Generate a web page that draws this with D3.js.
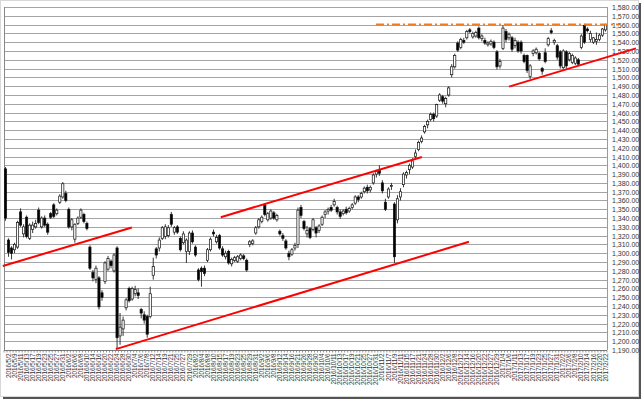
<!DOCTYPE html>
<html><head><meta charset="utf-8">
<script src="https://cdn.jsdelivr.net/npm/d3@7"></script>
<style>
body{margin:0;background:#fff}
svg{display:block}
text{font-family:"Liberation Sans",Arial,sans-serif}
</style>
</head><body>
<svg id="c" width="644" height="402"></svg>
<script>
const dates = [
"2016/4/28",
"2016/5/2","2016/5/6","2016/5/9","2016/5/10","2016/5/11","2016/5/12","2016/5/13","2016/5/16","2016/5/17","2016/5/18","2016/5/19","2016/5/20","2016/5/23","2016/5/24","2016/5/25","2016/5/26","2016/5/27","2016/5/30","2016/5/31",
"2016/6/1","2016/6/2","2016/6/3","2016/6/6","2016/6/7","2016/6/8","2016/6/9","2016/6/10","2016/6/13","2016/6/14","2016/6/15","2016/6/16","2016/6/17","2016/6/20","2016/6/21","2016/6/22","2016/6/23","2016/6/24","2016/6/27","2016/6/28","2016/6/29","2016/6/30",
"2016/7/1","2016/7/4","2016/7/5","2016/7/6","2016/7/7","2016/7/8","2016/7/11","2016/7/12","2016/7/13","2016/7/14","2016/7/15","2016/7/19","2016/7/20","2016/7/21","2016/7/22","2016/7/25","2016/7/26","2016/7/27","2016/7/28","2016/7/29",
"2016/8/1","2016/8/2","2016/8/3","2016/8/4","2016/8/5","2016/8/8","2016/8/9","2016/8/10","2016/8/12","2016/8/15","2016/8/16","2016/8/17","2016/8/18","2016/8/19","2016/8/22","2016/8/23","2016/8/24","2016/8/25","2016/8/26","2016/8/29","2016/8/30","2016/8/31",
"2016/9/1","2016/9/2","2016/9/5","2016/9/6","2016/9/7","2016/9/8","2016/9/9","2016/9/12","2016/9/13","2016/9/14","2016/9/15","2016/9/16","2016/9/20","2016/9/21","2016/9/23","2016/9/26","2016/9/27","2016/9/28","2016/9/29","2016/9/30",
"2016/10/3","2016/10/4","2016/10/5","2016/10/6","2016/10/7","2016/10/11","2016/10/12","2016/10/13","2016/10/14","2016/10/17","2016/10/18","2016/10/19","2016/10/20","2016/10/21","2016/10/24","2016/10/25","2016/10/26","2016/10/27","2016/10/28","2016/10/31",
"2016/11/1","2016/11/2","2016/11/4","2016/11/7","2016/11/8","2016/11/9","2016/11/10","2016/11/11","2016/11/14","2016/11/15","2016/11/16","2016/11/17","2016/11/18","2016/11/21","2016/11/22","2016/11/24","2016/11/25","2016/11/28","2016/11/29","2016/11/30",
"2016/12/1","2016/12/2","2016/12/5","2016/12/6","2016/12/7","2016/12/8","2016/12/9","2016/12/12","2016/12/13","2016/12/14","2016/12/15","2016/12/16","2016/12/19","2016/12/20","2016/12/21","2016/12/22","2016/12/26","2016/12/27","2016/12/28","2016/12/29","2016/12/30",
"2017/1/4","2017/1/5","2017/1/6","2017/1/10","2017/1/11","2017/1/12","2017/1/13","2017/1/16","2017/1/17","2017/1/18","2017/1/19","2017/1/20","2017/1/23","2017/1/24","2017/1/25","2017/1/26","2017/1/27","2017/1/30","2017/1/31",
"2017/2/1","2017/2/2","2017/2/3","2017/2/6","2017/2/7","2017/2/8","2017/2/9","2017/2/10","2017/2/13","2017/2/14","2017/2/15","2017/2/16","2017/2/17","2017/2/20","2017/2/21","2017/2/22"
];

const open = [
1396,1315,1306,1304,1307,1347,1322,1341,1317,1327,
1330,1349,1330,1340,1333,1345,1355,1345,1358,1364,
1368,1350,1330,1316,1334,1341,1344,1334,1307,1278,
1270,1272,1255,1268,1282,1291,1280,1306,1206,1214,
1238,1260,1248,1254,1255,1236,1230,1228,1228,1275,
1305,1306,1317,1319,1320,1344,1324,1330,1317,1312,
1302,1302,1323,1307,1281,1283,1283,1292,1304,1324,
1313,1320,1305,1296,1302,1288,1292,1291,1294,1297,
1292,1310,1311,1323,1330,1336,1355,1338,1340,1346,
1338,1325,1320,1314,1300,1299,1306,1310,1352,1336,
1322,1328,1327,1329,1326,1333,1344,1348,1352,1355,
1352,1347,1345,1350,1348,1352,1357,1364,1364,1370,
1375,1372,1380,1390,1394,1380,1358,1364,1376,1356,
1338,1364,1378,1389,1395,1398,1410,1418,1427,1438,
1446,1452,1458,1456,1474,1478,1470,1480,1503,1512,
1539,1534,1542,1545,1554,1546,1547,1556,1544,1542,
1537,1538,1540,1529,1513,1533,1552,1545,1545,1536,
1540,1540,1525,1525,1501,1527,1528,1527,1510,1528,
1537,1553,1540,1536,1529,1511,1529,1520,1517,1516,
1520,1534,1559,1555,1543,1540,1541,1543,1548,1554];

const high = [
1398,1317,1308,1312,1337,1351,1333,1343,1334,1336,
1338,1352,1342,1343,1335,1347,1357,1351,1367,1381,
1371,1352,1340,1334,1342,1351,1346,1336,1309,1281,
1286,1274,1258,1291,1297,1293,1300,1308,1232,1228,
1249,1262,1262,1263,1260,1238,1234,1230,1262,1295,
1307,1318,1331,1333,1332,1347,1331,1332,1319,1325,
1317,1325,1326,1309,1283,1285,1286,1306,1318,1327,
1321,1322,1308,1303,1304,1295,1297,1298,1300,1299,
1294,1315,1316,1331,1340,1343,1357,1347,1350,1348,
1345,1327,1323,1316,1303,1306,1312,1352,1355,1338,
1331,1330,1340,1331,1333,1343,1349,1352,1355,1362,
1354,1350,1350,1353,1353,1357,1366,1366,1370,1376,
1378,1377,1391,1395,1400,1383,1362,1375,1380,1358,
1366,1374,1392,1394,1402,1408,1418,1428,1434,1446,
1452,1460,1460,1470,1482,1480,1478,1490,1515,1527,
1541,1545,1545,1554,1556,1552,1553,1558,1549,1545,
1541,1543,1542,1531,1521,1559,1555,1551,1547,1545,
1542,1542,1527,1526,1515,1532,1534,1529,1512,1533,
1546,1556,1544,1538,1531,1532,1531,1529,1527,1524,
1522,1549,1561,1557,1553,1546,1551,1550,1556,1561];

const low = [
1337,1296,1293,1300,1305,1330,1318,1317,1315,1323,
1328,1333,1328,1330,1321,1339,1340,1343,1356,1362,
1358,1328,1326,1312,1332,1339,1334,1326,1281,1268,
1266,1236,1246,1265,1280,1283,1278,1192,1196,1206,
1235,1244,1246,1251,1248,1226,1220,1204,1226,1270,
1294,1302,1315,1316,1318,1330,1321,1322,1302,1310,
1289,1298,1311,1296,1268,1262,1274,1290,1302,1319,
1311,1304,1296,1293,1287,1285,1290,1289,1292,1292,
1279,1307,1309,1321,1328,1334,1342,1336,1338,1338,
1336,1320,1314,1304,1292,1297,1303,1306,1340,1326,
1318,1316,1325,1318,1323,1331,1340,1344,1347,1353,
1344,1339,1343,1344,1346,1350,1355,1358,1362,1368,
1368,1369,1378,1386,1388,1368,1348,1362,1372,1289,
1334,1360,1375,1385,1390,1396,1408,1416,1425,1436,
1442,1450,1450,1454,1472,1470,1466,1478,1500,1510,
1529,1532,1538,1543,1550,1544,1545,1543,1541,1537,
1535,1536,1532,1509,1510,1531,1540,1542,1529,1533,
1528,1527,1516,1505,1498,1524,1526,1519,1503,1516,
1535,1549,1537,1520,1510,1509,1510,1518,1515,1514,
1513,1532,1538,1551,1540,1538,1537,1541,1546,1552];

const close = [
1340,1301,1300,1310,1335,1332,1330,1319,1332,1332,
1334,1335,1340,1332,1324,1341,1342,1349,1365,1379,
1360,1330,1338,1333,1340,1349,1336,1328,1283,1272,
1283,1239,1250,1289,1294,1286,1298,1204,1216,1224,
1247,1246,1260,1259,1252,1232,1224,1208,1254,1285,
1298,1315,1329,1330,1329,1333,1329,1324,1304,1322,
1315,1323,1313,1298,1270,1279,1277,1304,1316,1322,
1318,1306,1298,1300,1289,1293,1295,1296,1298,1294,
1281,1313,1314,1329,1338,1341,1344,1345,1348,1340,
1343,1322,1317,1306,1296,1304,1309,1349,1343,1328,
1326,1318,1338,1323,1331,1341,1347,1350,1349,1359,
1347,1342,1348,1346,1351,1355,1364,1361,1368,1374,
1371,1375,1389,1393,1391,1371,1350,1373,1377,1296,
1362,1370,1390,1392,1400,1405,1414,1426,1431,1444,
1450,1458,1453,1469,1480,1473,1476,1488,1512,1525,
1531,1543,1540,1552,1552,1550,1551,1545,1547,1539,
1539,1541,1534,1512,1518,1556,1543,1549,1532,1542,
1530,1530,1518,1508,1513,1530,1532,1521,1507,1518,
1544,1551,1542,1523,1513,1530,1513,1527,1525,1522,
1515,1547,1540,1553,1550,1545,1543,1548,1555,1560];

const yTicks = d3.range(1190, 1581, 10);
// trend lines: [start index, start value, end index, end value]
const trendLines = [
  [-0.9, 1285.5, 41.9, 1329.2],
  [36.6, 1191.0, 153.7, 1313.0],
  [71.4, 1341.0, 138.1, 1409.5],
  [167.0, 1489.5, 209.1, 1533.0]
];
const resistance = [122.9, 203.5, 1560];

const svg = d3.select("#c");
const L = 4, R = 607, T = 7, B = 350;
const n = dates.length;
const x = d3.scaleBand().domain(dates).range([L, R]).paddingInner(0.14).paddingOuter(0.07);
const xi = d3.scaleLinear().domain([0, n]).range([L, R]);
const y = d3.scaleLinear().domain([1190, 1580]).range([B, T]);

// outer chrome
svg.append("rect").attr("x",0.5).attr("y",0.5).attr("width",638).attr("height",396)
  .attr("fill","#fff").attr("stroke","#d8d8d8");
svg.append("line").attr("x1",640).attr("x2",640).attr("y1",3).attr("y2",399)
  .attr("stroke","#555").attr("stroke-width",2);
svg.append("line").attr("x1",3).attr("x2",641).attr("y1",398).attr("y2",398)
  .attr("stroke","#555").attr("stroke-width",2);

// gridlines
svg.append("g").selectAll("line").data(yTicks).join("line")
  .attr("x1", L).attr("x2", R)
  .attr("y1", d => Math.round(y(d)) + 0.5).attr("y2", d => Math.round(y(d)) + 0.5)
  .attr("stroke", "#a4a4a4").attr("stroke-width", 1);

// y labels
svg.append("g").selectAll("text").data(yTicks).join("text")
  .attr("x", 612).attr("y", d => Math.round(y(d)) + 0.5)
  .attr("dy", "0.35em").attr("font-size", 7).attr("fill", "#333")
  .text(d3.format(",.2f"));

// plot borders
svg.append("line").attr("x1", L+0.5).attr("x2", L+0.5).attr("y1", T).attr("y2", B)
  .attr("stroke", "#888");
svg.append("line").attr("x1", R+0.5).attr("x2", R+0.5).attr("y1", T).attr("y2", B)
  .attr("stroke", "#999");

// x axis with labels every other category
const labelDates = dates.filter((d, i) => i % 2 === 1);
const xAxis = d3.axisBottom(x).tickValues(labelDates).tickSize(0).tickPadding(0);
const gx = svg.append("g").attr("transform", `translate(0,${Math.round(B)+0.5})`).call(xAxis);
gx.select(".domain").attr("stroke", "#777").attr("d", `M${L},0H${R}`);
gx.selectAll("text")
  .attr("transform", "rotate(-90)")
  .attr("x", -3).attr("y", 0).attr("dy", "0.33em")
  .attr("text-anchor", "end").attr("font-size", 6.3).attr("fill", "#333")
  .attr("font-family", "'Liberation Sans',Arial,sans-serif");
// minor tick marks at category boundaries
svg.append("g").selectAll("line").data(d3.range(n + 1)).join("line")
  .attr("x1", i => xi(i)).attr("x2", i => xi(i))
  .attr("y1", Math.round(B)+0.5).attr("y2", Math.round(B)+2.5)
  .attr("stroke", "#777").attr("stroke-width", 0.8);

// candles
const idx = d3.range(n);
const cx = i => x(dates[i]) + x.bandwidth() / 2;
const g = svg.append("g");
g.selectAll("line").data(idx).join("line")
  .attr("x1", i => cx(i)).attr("x2", i => cx(i))
  .attr("y1", i => y(high[i])).attr("y2", i => y(low[i]))
  .attr("stroke", "#222").attr("stroke-width", 0.9);
g.selectAll("rect").data(idx).join("rect")
  .attr("x", i => x(dates[i]) + 0.2)
  .attr("width", x.bandwidth() - 0.4)
  .attr("y", i => y(Math.max(open[i], close[i])))
  .attr("height", i => Math.max(1, Math.abs(y(open[i]) - y(close[i]))))
  .attr("fill", i => close[i] >= open[i] ? "#fff" : "#000")
  .attr("stroke", "#111").attr("stroke-width", 0.7);

// resistance line (orange dash-dot)
svg.append("line")
  .attr("x1", xi(resistance[0] + 0.5)).attr("x2", xi(resistance[1] + 0.5))
  .attr("y1", y(resistance[2])).attr("y2", y(resistance[2]))
  .attr("stroke", "#f47a20").attr("stroke-width", 2)
  .attr("stroke-dasharray", "8,3,2,3");

// trend lines (red)
svg.append("g").selectAll("line").data(trendLines).join("line")
  .attr("x1", d => xi(d[0] + 0.5)).attr("y1", d => y(d[1]))
  .attr("x2", d => xi(d[2] + 0.5)).attr("y2", d => y(d[3]))
  .attr("stroke", "#ff0000").attr("stroke-width", 2);
</script>
</body></html>
